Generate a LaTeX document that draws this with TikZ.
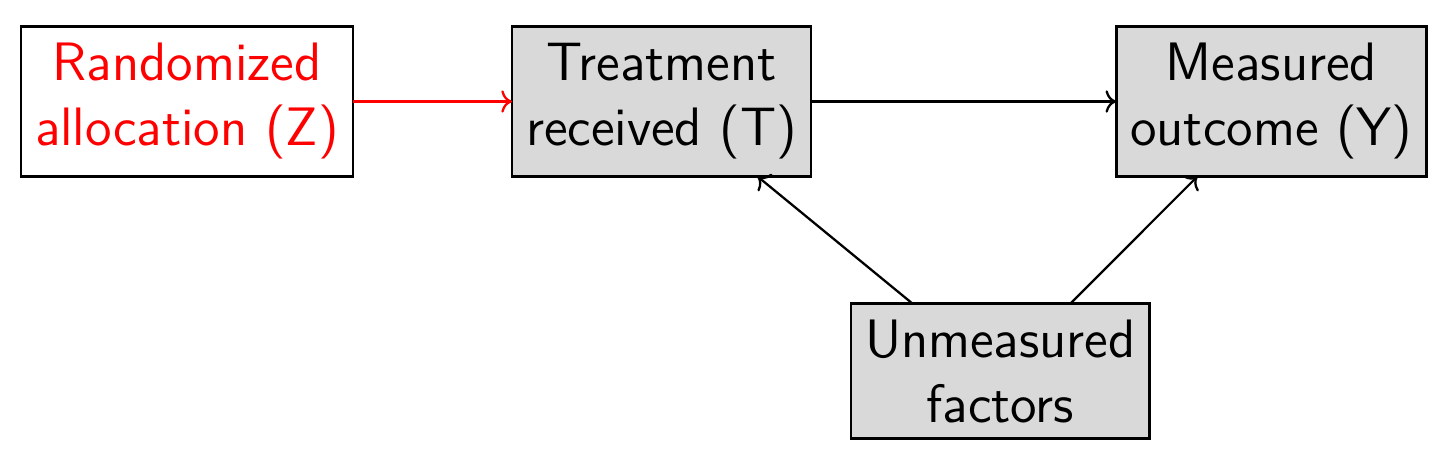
\documentclass[tikz,border=0pt]{standalone}
\usepackage{tikz,xcolor}
\usetikzlibrary{arrows.meta,positioning}
\definecolor{rnd}{HTML}{FF0000}
\definecolor{lt}{HTML}{D9D9D9}
\tikzset{
  box/.style={draw=black,line width=0.75pt,align=center,inner sep=4pt,outer sep=0pt,
    font=\sffamily\fontsize{15.4}{18.5}\selectfont,minimum height=1.5cm},
  gbox/.style={box,fill=lt},
  ar/.style={->,line width=0.65pt,draw=black},
}

\begin{document}
\begin{tikzpicture}
\useasboundingbox (0,0) rectangle (14.56,-4.68);
\node[box,text=rnd,minimum width=3.28cm] (z) at (1.87,-1.015) {Randomized\\allocation (Z)};
\node[gbox,minimum width=2.98cm,right=1.59cm of z] (t) {Treatment\\received (T)};
\node[gbox,minimum width=3.08cm,right=3.05cm of t] (y) {Measured\\outcome (Y)};
\node[gbox,minimum width=2.96cm,minimum height=1.35cm,anchor=north west] (u)
  at ([xshift=0.40cm,yshift=-1.27cm]t.south east) {Unmeasured\\factors};
% arrows
\draw[ar,draw=rnd] (z) -- (t);
\draw[ar] (t) -- (y);
\draw[ar] ([xshift=-0.88cm]u.north) -- ([xshift=0.96cm]t.south);
\draw[ar] ([xshift=0.70cm]u.north) -- ([xshift=-0.74cm]y.south);
\end{tikzpicture}
\end{document}
